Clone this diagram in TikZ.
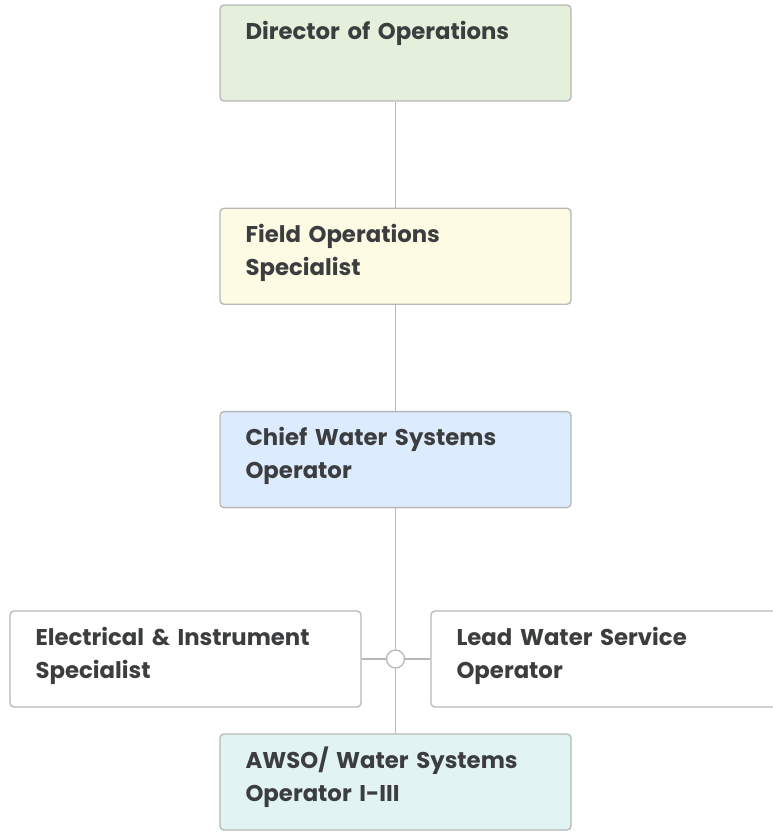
\documentclass[tikz,border=0pt]{standalone}
\usepackage{fontspec}
\setmainfont{Poppins}[BoldFont={Poppins Bold}]
\usepackage{xcolor}
\usepackage{tikz}
\usetikzlibrary{positioning,calc}

\definecolor{edgegray}{HTML}{B7B7B7}
\definecolor{textgray}{HTML}{3B3D3F}
\definecolor{dirgreen}{HTML}{E4F0DC}
\definecolor{fieldyellow}{HTML}{FDFBE4}
\definecolor{chiefblue}{HTML}{DCEBFD}
\definecolor{awsoteal}{HTML}{E2F3F3}

\begin{document}
\begin{tikzpicture}[
    x=1pt, y=-1pt,
    role/.style={rectangle, rounded corners=4pt, draw=edgegray, line width=1.3pt,
                 minimum width=351pt, minimum height=96pt, inner sep=0pt},
    title/.style={anchor=base west, inner sep=0pt, text width=320pt, align=left,
                  text=textgray, font=\fontsize{22.8}{33}\selectfont\bfseries},
    link/.style={draw=edgegray, line width=1.3pt}
]
\useasboundingbox (0,0) rectangle (772,832);

% Main chain
\node[role, fill=dirgreen] (director) at (395.5,53) {};
\node[role, fill=fieldyellow, below=106pt of director] (field) {};
\node[role, fill=chiefblue, below=106pt of field] (chief) {};
\node[role, fill=awsoteal] (awso) at (395.5,782) {};

% Side roles
\node[role, fill=white] (elec) at (185.5,659) {};
\node[role, fill=white] (lead) at (606.5,659) {};

% Junction
\node[circle, draw=edgegray, line width=1.3pt, fill=white, minimum size=18pt,
      inner sep=0pt] (hub) at (395.5,659) {};

% Titles
\node[title] (directorT) at ($(director.north west)+(26,35)$) {Director of Operations};
\node[title] (fieldT) at ($(field.north west)+(26,35)$) {Field Operations\\Specialist};
\node[title] (chiefT) at ($(chief.north west)+(26,35)$) {Chief Water Systems\\Operator};
\node[title] (elecT) at ($(elec.north west)+(26,35)$) {Electrical \& Instrument\\Specialist};
\node[title] (leadT) at ($(lead.north west)+(26,35)$) {Lead Water Service\\Operator};
\node[title] (awsoT) at ($(awso.north west)+(26,35)$) {AWSO/ Water Systems\\Operator I-III};

% Connectors
\draw[link] (director) -- (field);
\draw[link] (field) -- (chief);
\draw[link] (chief) -- (hub);
\draw[link] (hub) -- (awso);
\draw[link] (hub) -- (elec);
\draw[link] (hub) -- (lead);

\end{tikzpicture}
\end{document}
